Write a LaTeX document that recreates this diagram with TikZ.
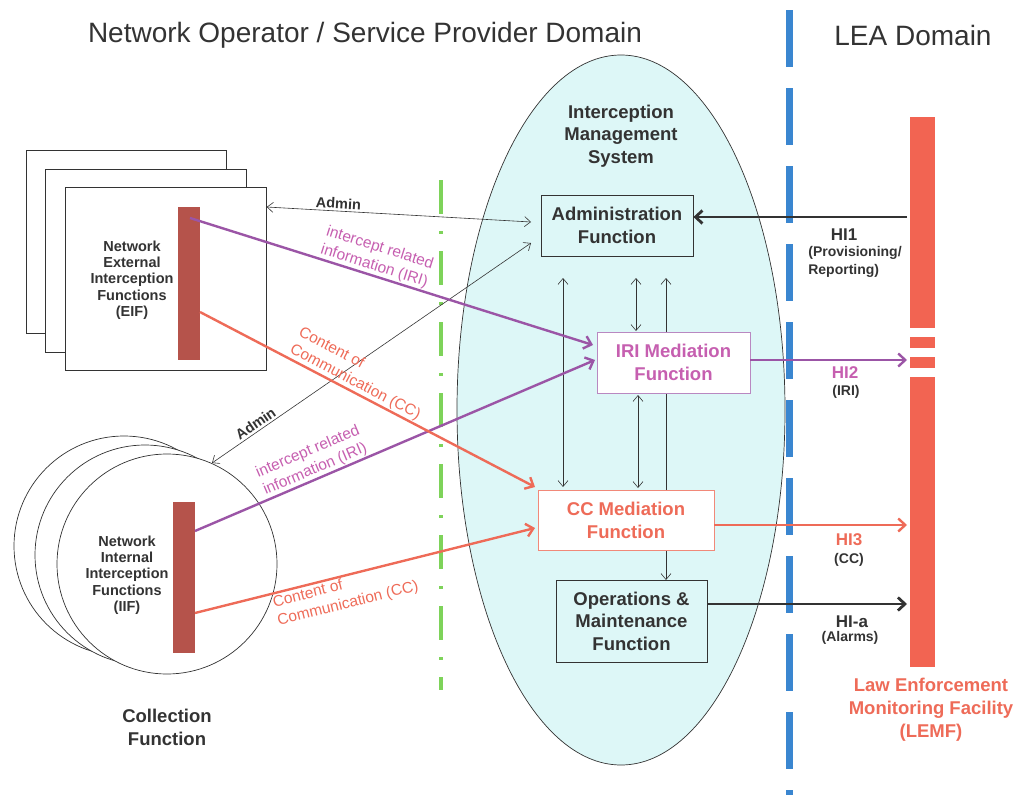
\documentclass[tikz,border=0pt]{standalone}
\usepackage{fontspec}
\setmainfont{Liberation Sans}
\usetikzlibrary{arrows.meta}
\definecolor{txt}{HTML}{333333}
\definecolor{iri}{HTML}{9B55A6}
\definecolor{iritxt}{HTML}{C65FB0}
\definecolor{cc}{HTML}{EE6B58}
\definecolor{bar}{HTML}{B5534B}
\definecolor{lemf}{HTML}{F26452}
\definecolor{ims}{HTML}{DDF7F7}
\definecolor{blueline}{HTML}{3A86D0}
\definecolor{greenline}{HTML}{7ED35A}
\newcommand\myfs[1]{\fontsize{#1}{\fpeval{#1*1.22}}\selectfont}
\tikzset{
  fs/.style={font=\myfs{#1}},
  fsb/.style={font=\myfs{#1}\bfseries},
  fsx/.style 2 args={font=\fontsize{#1}{#2}\selectfont\bfseries},
  func/.style={draw=txt, line width=0.8pt, minimum height=60pt, align=center, text=txt, inner sep=0pt},
  thinarr/.style={draw=txt, line width=0.6pt, {Straight Barb[length=6pt,width=10pt]}-{Straight Barb[length=6pt,width=10pt]}},
  iriarr/.style={draw=iri, line width=2.4pt, -{Straight Barb[length=7pt,width=13pt]}},
  ccarr/.style={draw=cc, line width=2.4pt, -{Straight Barb[length=7pt,width=13pt]}},
  hiarr/.style={draw=txt, line width=2.8pt, -{Straight Barb[length=7pt,width=13pt]}},
  lbl/.style={sloped, align=center, inner sep=2pt},
}
\begin{document}
\begin{tikzpicture}[x=1pt,y=-1pt]
\useasboundingbox (0,0) rectangle (1018,795);
% titles
\node[fs=28, text=txt] (t1) at (365,35) {Network Operator / Service Provider Domain};
\node[fs=28, text=txt] (t2) at (913,35) {LEA Domain};
% domain separators
\draw[blueline, line width=7pt, dash pattern=on 57pt off 21pt] (789,10) -- (789,795);
\draw[greenline, line width=4pt, dash pattern=on 34pt off 17pt on 3pt off 17pt] (441,180) -- (441,690);
% IMS ellipse
\draw[fill=ims, draw=txt, line width=0.7pt] (621,410) ellipse [x radius=164, y radius=355];
\node[fsx={18.5}{22.5}, text=txt, align=center] (ims) at (621,136) {Interception\\Management\\System};
% EIF stack
\draw[draw=txt, line width=0.7pt, fill=white] (26,150) rectangle (226,333);
\draw[draw=txt, line width=0.7pt, fill=white] (45,169) rectangle (246,352);
\node[draw=txt, line width=0.7pt, fill=white, minimum width=201pt, minimum height=183pt, anchor=north west, inner sep=0pt] (eif) at (65,187) {};
\node[fill=bar, minimum width=22pt, minimum height=153pt, inner sep=0pt, anchor=north west] (eifbar) at (178,207) {};
\node[fsx={14.5}{16.3}, text=txt, align=center] (eiftxt) at (132,280) {Network\\External\\Interception\\Functions\\(EIF)};
% IIF circles
\draw[draw=txt, line width=0.7pt, fill=white] (124,546) circle (110);
\draw[draw=txt, line width=0.7pt, fill=white] (145,555) circle (110);
\node[draw=txt, line width=0.7pt, fill=white, circle, minimum size=220pt, inner sep=0pt] (iif) at (167,564) {};
\node[fill=bar, minimum width=22pt, minimum height=151pt, inner sep=0pt, anchor=north west] (iifbar) at (173,502) {};
\node[fsx={14.5}{16.3}, text=txt, align=center] (iiftxt) at (127,575) {Network\\Internal\\Interception\\Functions\\(IIF)};
\node[fsx={18.5}{23}, text=txt, align=center] (colf) at (167,727) {Collection\\Function};
% LEMF bar
\fill[lemf] (910,117) rectangle (935,328);
\fill[lemf] (910,337) rectangle (935,348);
\fill[lemf] (910,357) rectangle (935,368);
\fill[lemf] (910,377) rectangle (935,667);
\coordinate (lemf1) at (907,217);
\coordinate (lemf2) at (907,360);
\coordinate (lemf3) at (907,525);
\coordinate (lemf4) at (907,604);
\node[fsx={18.5}{23}, text=cc, align=center] (lemftxt) at (931,710) {Law Enforcement\\Monitoring Facility\\(LEMF)};
% inner vertical connector behind mediation boxes
\coordinate (v3top) at (666,278);
\coordinate (v3bot) at (666,580);
\draw[thinarr] (v3top) -- (v3bot);
% function boxes
\node[func, minimum width=152pt, minimum height=61pt, fsx={18.5}{23}] (adm) at (617,225.5) {Administration\\Function};
\node[func, draw=iri!70, fill=white, minimum width=153pt, minimum height=61pt, fsx={18.5}{23}, text=iritxt] (irim) at (673.5,362.5) {IRI Mediation\\Function};
\node[func, draw=cc!80, fill=white, minimum width=176pt, minimum height=60pt, fsx={18.5}{23}, text=cc] (ccm) at (626,520) {CC Mediation\\Function};
\node[func, minimum width=151pt, minimum height=82pt, fsx={18.5}{22.5}] (om) at (631.5,621) {Operations \&\\Maintenance\\Function};
% inner arrows
\draw[thinarr] (563,278) -- (563,487);
\draw[thinarr] (636,278) -- (636,331);
\draw[thinarr] (638,395) -- (638,488);
% admin connections
\draw[thinarr] (eif.north east |- 0,207) -- node[pos=0.27, lbl, above, fsb=14.5, text=txt] {Admin} (531,222);
\draw[thinarr] (212,463) -- node[pos=0.15, lbl, above, fsb=14.5, text=txt] {Admin} (531,243);
% IRI
\draw[iriarr] (190,218) -- node[pos=0.45, lbl, above, fs=15.5, text=iritxt, inner sep=1pt] {intercept related\\information (IRI)} (593,345);
\draw[iriarr] (195,531) -- node[pos=0.31, lbl, above, fs=15.5, text=iritxt, inner sep=1pt] {intercept related\\information (IRI)} (595,360);
% CC
\draw[ccarr] (200,312) -- node[pos=0.45, lbl, above, fs=15.5, text=cc, align=left, inner sep=1pt] {Content of\\Communication (CC)} (535,487);
\draw[ccarr] (195,613) -- node[pos=0.43, lbl, below, fs=15.5, text=cc, align=left, inner sep=1pt] {Content of\\Communication (CC)} (535,528);
% handover interfaces
\draw[hiarr] (lemf1) -- (adm.east |- lemf1);
\draw[iriarr] (irim.east |- lemf2) -- (lemf2);
\draw[ccarr] (ccm.east |- lemf3) -- (lemf3);
\draw[hiarr] (om.east |- lemf4) -- (lemf4);
\node[fsb=17, text=txt] (hi1) at (844,235) {HI1};
\node[fsx={14}{18}, text=txt, align=left] (hi1b) at (855,262) {(Provisioning/\\Reporting)};
\node[fsb=17, text=iritxt] (hi2) at (845,373) {HI2};
\node[fsb=14, text=txt] (hi2b) at (846,392) {(IRI)};
\node[fsb=17, text=cc] (hi3) at (849,540) {HI3};
\node[fsb=14, text=txt] (hi3b) at (849,560) {(CC)};
\node[fsb=17, text=txt] (hia) at (852,622) {HI-a};
\node[fsb=14, text=txt] (hiab) at (850,638) {(Alarms)};
\end{tikzpicture}
\end{document}
